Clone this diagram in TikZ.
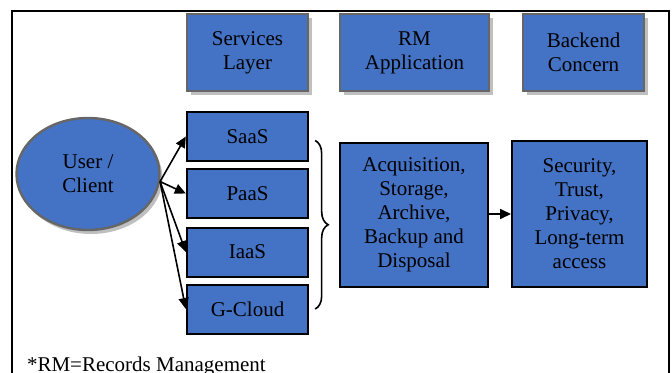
\documentclass[tikz,border=0pt]{standalone}
\usepackage{fontspec}
\setmainfont{Liberation Serif}
\usetikzlibrary{positioning, shapes.geometric, arrows.meta, shadows, decorations.pathreplacing}
\definecolor{boxblue}{HTML}{4472C4}
\definecolor{rimgray}{HTML}{666666}
\tikzstyle{head} = [rectangle, draw=rimgray, line width=1.2pt, fill=boxblue,
minimum width=58.5pt, minimum height=38.5pt, text width=54pt, align=center,
drop shadow={shadow xshift=2pt, shadow yshift=-2pt, fill=black!25, opacity=1}]
\tikzstyle{svc} = [rectangle, draw=black, line width=1pt, fill=boxblue,
minimum width=58.5pt, minimum height=24.5pt, text width=54pt, align=center]
\tikzstyle{big} = [rectangle, draw=black, line width=1pt, fill=boxblue, align=center]
\tikzstyle{arrow} = [line width=0.8pt, -{Triangle[length=5.5pt, width=5pt]}]

\begin{document}
\begin{tikzpicture}[x=0.5pt, y=-0.5pt, font=\fontsize{10.5}{12}\selectfont]
        \useasboundingbox (0,0) rectangle (672,373);
        % frame, bottom edge runs off the page
        \draw[line width=1pt] (12,373) -- (12,11) -- (669,11) -- (669,373);

        \node (SL) [head] at (247.5,52.5) {Services\\ Layer};
        \node (RA) [head, minimum width=71.5pt, text width=68pt] at (414.5,52.5) {RM\\ Application};
        \node (BC) [head] at (583.5,52.5) {Backend\\ Concern};

        \node (U) [ellipse, draw=rimgray, line width=1.2pt, fill=boxblue, align=center,
            minimum width=71.5pt, minimum height=56pt,
            drop shadow={shadow xshift=1.5pt, shadow yshift=-2pt, fill=black!25, opacity=1}]
            at (88,174) {User /\\ Client};

        \node (SA) [svc] at (247.5,136.5) {SaaS};
        \node (PA) [svc] at (247.5,193.5) {PaaS};
        \node (IA) [svc] at (247.5,252) {IaaS};
        \node (GC) [svc] at (247.5,309) {G-Cloud};

        \node (A) [big, minimum width=74pt, minimum height=72pt] at (414,215)
            {Acquisition,\\ Storage,\\ Archive,\\ Backup and\\ Disposal};
        \node (B) [big, minimum width=67.5pt, minimum height=73pt] at (579.5,214)
            {Security,\\ Trust,\\ Privacy,\\ Long-term\\ access};

        \draw [arrow] (U.-6) -- (SA.west);
        \draw [arrow] (U.-6) -- (PA.west);
        \draw [arrow] (U.-6) -- (IA.west);
        \draw [arrow] (U.-6) -- (GC.west);
        \draw [decorate, decoration={brace, amplitude=6.5pt}, line width=0.8pt]
            ([xshift=3pt, yshift=-2pt]SA.east) -- ([xshift=3pt]GC.east);
        \draw [arrow] (A.east |- B.west) -- (B.west);

        \node (N) [anchor=base west] at (20,371) {*RM=Records Management};
    \end{tikzpicture}
\end{document}
